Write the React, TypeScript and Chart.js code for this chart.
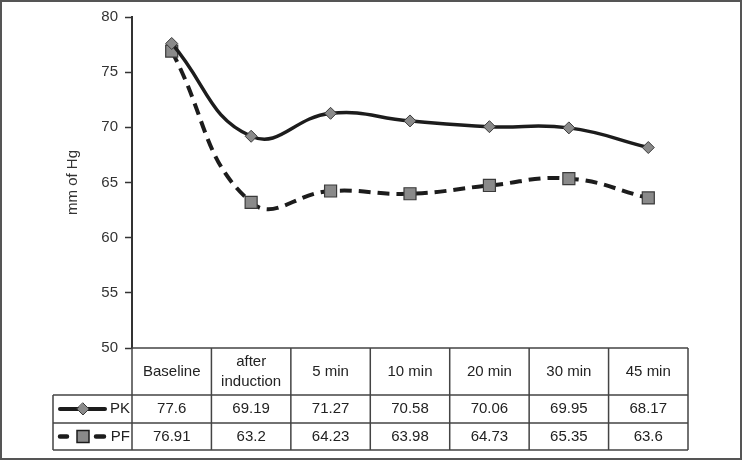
import React, { useEffect, useRef } from "react";
import { Chart, registerables } from "chart.js";

Chart.register(...registerables);

const categories = ["Baseline", "after induction", "5 min", "10 min", "20 min", "30 min", "45 min"];
const headerLines = [["Baseline"], ["after", "induction"], ["5 min"], ["10 min"], ["20 min"], ["30 min"], ["45 min"]];
const pkValues = [77.6, 69.19, 71.27, 70.58, 70.06, 69.95, 68.17];
const pfValues = [76.91, 63.2, 64.23, 63.98, 64.73, 65.35, 63.6];
const pkLabel = "PK";
const pfLabel = "PF";
const yTitle = "mm of Hg";
const yMin = 50;
const yMax = 80;
const yStep = 5;

const FONT = '"Liberation Sans", Arial, sans-serif';
const LINE = "#1c1c1c";
const MARK_FILL = "#8a8a8a";
const MARK_BORDER = "#3a3a3a";
const GRID = "#444";

const tablePlugin = {
  id: "tablePlugin",
  afterDraw(chart: any) {
    const ctx = chart.ctx;
    const x = chart.scales.x;
    const area = chart.chartArea;
    const n = categories.length;
    const centers = categories.map((_, i) => x.getPixelForValue(i));
    const step = n > 1 ? centers[1] - centers[0] : area.right - area.left;
    const bounds = [centers[0] - step / 2, ...centers.map((c) => c + step / 2)];
    const top = area.bottom;
    const headBottom = top + 47;
    const row1Bottom = headBottom + 28;
    const row2Bottom = row1Bottom + 27;
    const tableLeft = 53;
    const right = bounds[bounds.length - 1];

    ctx.save();
    // outer image border
    ctx.strokeStyle = "#555";
    ctx.lineWidth = 2;
    ctx.strokeRect(1, 1, chart.width - 2, chart.height - 2);

    // y title
    ctx.fillStyle = "#333";
    ctx.font = `15px ${FONT}`;
    ctx.textAlign = "center";
    ctx.textBaseline = "middle";
    ctx.save();
    ctx.translate(73, (area.top + area.bottom) / 2);
    ctx.rotate(-Math.PI / 2);
    ctx.fillText(yTitle, 0, 0);
    ctx.restore();

    // table lines
    ctx.strokeStyle = GRID;
    ctx.lineWidth = 1.5;
    ctx.beginPath();
    ctx.moveTo(bounds[0], top);
    ctx.lineTo(right, top);
    for (const yy of [headBottom, row1Bottom, row2Bottom]) {
      ctx.moveTo(tableLeft, yy);
      ctx.lineTo(right, yy);
    }
    ctx.moveTo(tableLeft, headBottom);
    ctx.lineTo(tableLeft, row2Bottom);
    for (const b of bounds) {
      ctx.moveTo(b, top);
      ctx.lineTo(b, row2Bottom);
    }
    ctx.stroke();

    // header text
    ctx.fillStyle = "#222";
    ctx.font = `15px ${FONT}`;
    ctx.textAlign = "center";
    ctx.textBaseline = "middle";
    const headMid = (top + headBottom) / 2;
    headerLines.forEach((lines, i) => {
      const lh = 20;
      lines.forEach((t, j) => {
        const yy = headMid + (j - (lines.length - 1) / 2) * lh;
        ctx.fillText(t, centers[i], yy);
      });
    });
    const r1 = (headBottom + row1Bottom) / 2;
    const r2 = (row1Bottom + row2Bottom) / 2;
    pkValues.forEach((v, i) => ctx.fillText(String(v), centers[i], r1));
    pfValues.forEach((v, i) => ctx.fillText(String(v), centers[i], r2));

    // legend keys
    ctx.textAlign = "right";
    ctx.fillText(pkLabel, bounds[0] - 2, r1);
    ctx.fillText(pfLabel, bounds[0] - 2, r2);

    ctx.strokeStyle = LINE;
    ctx.lineWidth = 4;
    ctx.lineCap = "round";
    ctx.beginPath();
    ctx.moveTo(60, r1);
    ctx.lineTo(105, r1);
    ctx.stroke();
    // diamond
    ctx.fillStyle = MARK_FILL;
    ctx.strokeStyle = MARK_BORDER;
    ctx.lineWidth = 1;
    ctx.beginPath();
    ctx.moveTo(83, r1 - 6);
    ctx.lineTo(89, r1);
    ctx.lineTo(83, r1 + 6);
    ctx.lineTo(77, r1);
    ctx.closePath();
    ctx.fill();
    ctx.stroke();

    ctx.strokeStyle = LINE;
    ctx.lineWidth = 4.5;
    ctx.beginPath();
    ctx.moveTo(60, r2);
    ctx.lineTo(67, r2);
    ctx.moveTo(96, r2);
    ctx.lineTo(104, r2);
    ctx.stroke();
    ctx.fillStyle = MARK_FILL;
    ctx.strokeStyle = LINE;
    ctx.lineWidth = 1.5;
    ctx.fillRect(77, r2 - 6, 12, 12);
    ctx.strokeRect(77, r2 - 6, 12, 12);
    ctx.restore();
  },
};

export default function App() {
  const ref = useRef<HTMLCanvasElement>(null);
  useEffect(() => {
    if (!ref.current) return;
    const chart = new Chart(ref.current, {
      type: "line",
      data: {
        labels: categories,
        datasets: [
          {
            label: pkLabel,
            data: pkValues,
            borderColor: LINE,
            borderWidth: 3.5,
            tension: 0.45,
            pointStyle: "rectRot",
            pointRadius: 6,
            pointBackgroundColor: MARK_FILL,
            pointBorderColor: MARK_BORDER,
            pointBorderWidth: 1,
            fill: false,
          },
          {
            label: pfLabel,
            data: pfValues,
            borderColor: LINE,
            borderWidth: 4,
            borderDash: [12, 7],
            tension: 0.45,
            pointStyle: "rect",
            pointRadius: 8.5,
            pointBackgroundColor: MARK_FILL,
            pointBorderColor: MARK_BORDER,
            pointBorderWidth: 1.2,
            fill: false,
          },
        ],
      },
      options: {
        responsive: false,
        animation: false,
        events: [],
        layout: { padding: { left: 0, right: 54, top: 17, bottom: 112 } },
        plugins: { legend: { display: false }, tooltip: { enabled: false } },
        scales: {
          x: { type: "category", offset: true, display: false },
          y: {
            min: yMin,
            max: yMax,
            ticks: { stepSize: yStep, padding: 7, color: "#333", font: { family: FONT, size: 15 } },
            grid: { drawOnChartArea: false, drawTicks: true, tickLength: 7, tickColor: "#333", tickWidth: 1.5 },
            border: { display: true, color: "#333", width: 2 },
            afterFit: (s: any) => {
              s.width = 132;
            },
          },
        },
      },
      plugins: [tablePlugin],
    });
    return () => chart.destroy();
  }, []);
  return (
    <div style={{ position: "fixed", left: 0, top: 0, width: 742, height: 460, background: "#fff" }}>
      <canvas ref={ref} width={742} height={460} style={{ width: 742, height: 460, display: "block" }} />
    </div>
  );
}
